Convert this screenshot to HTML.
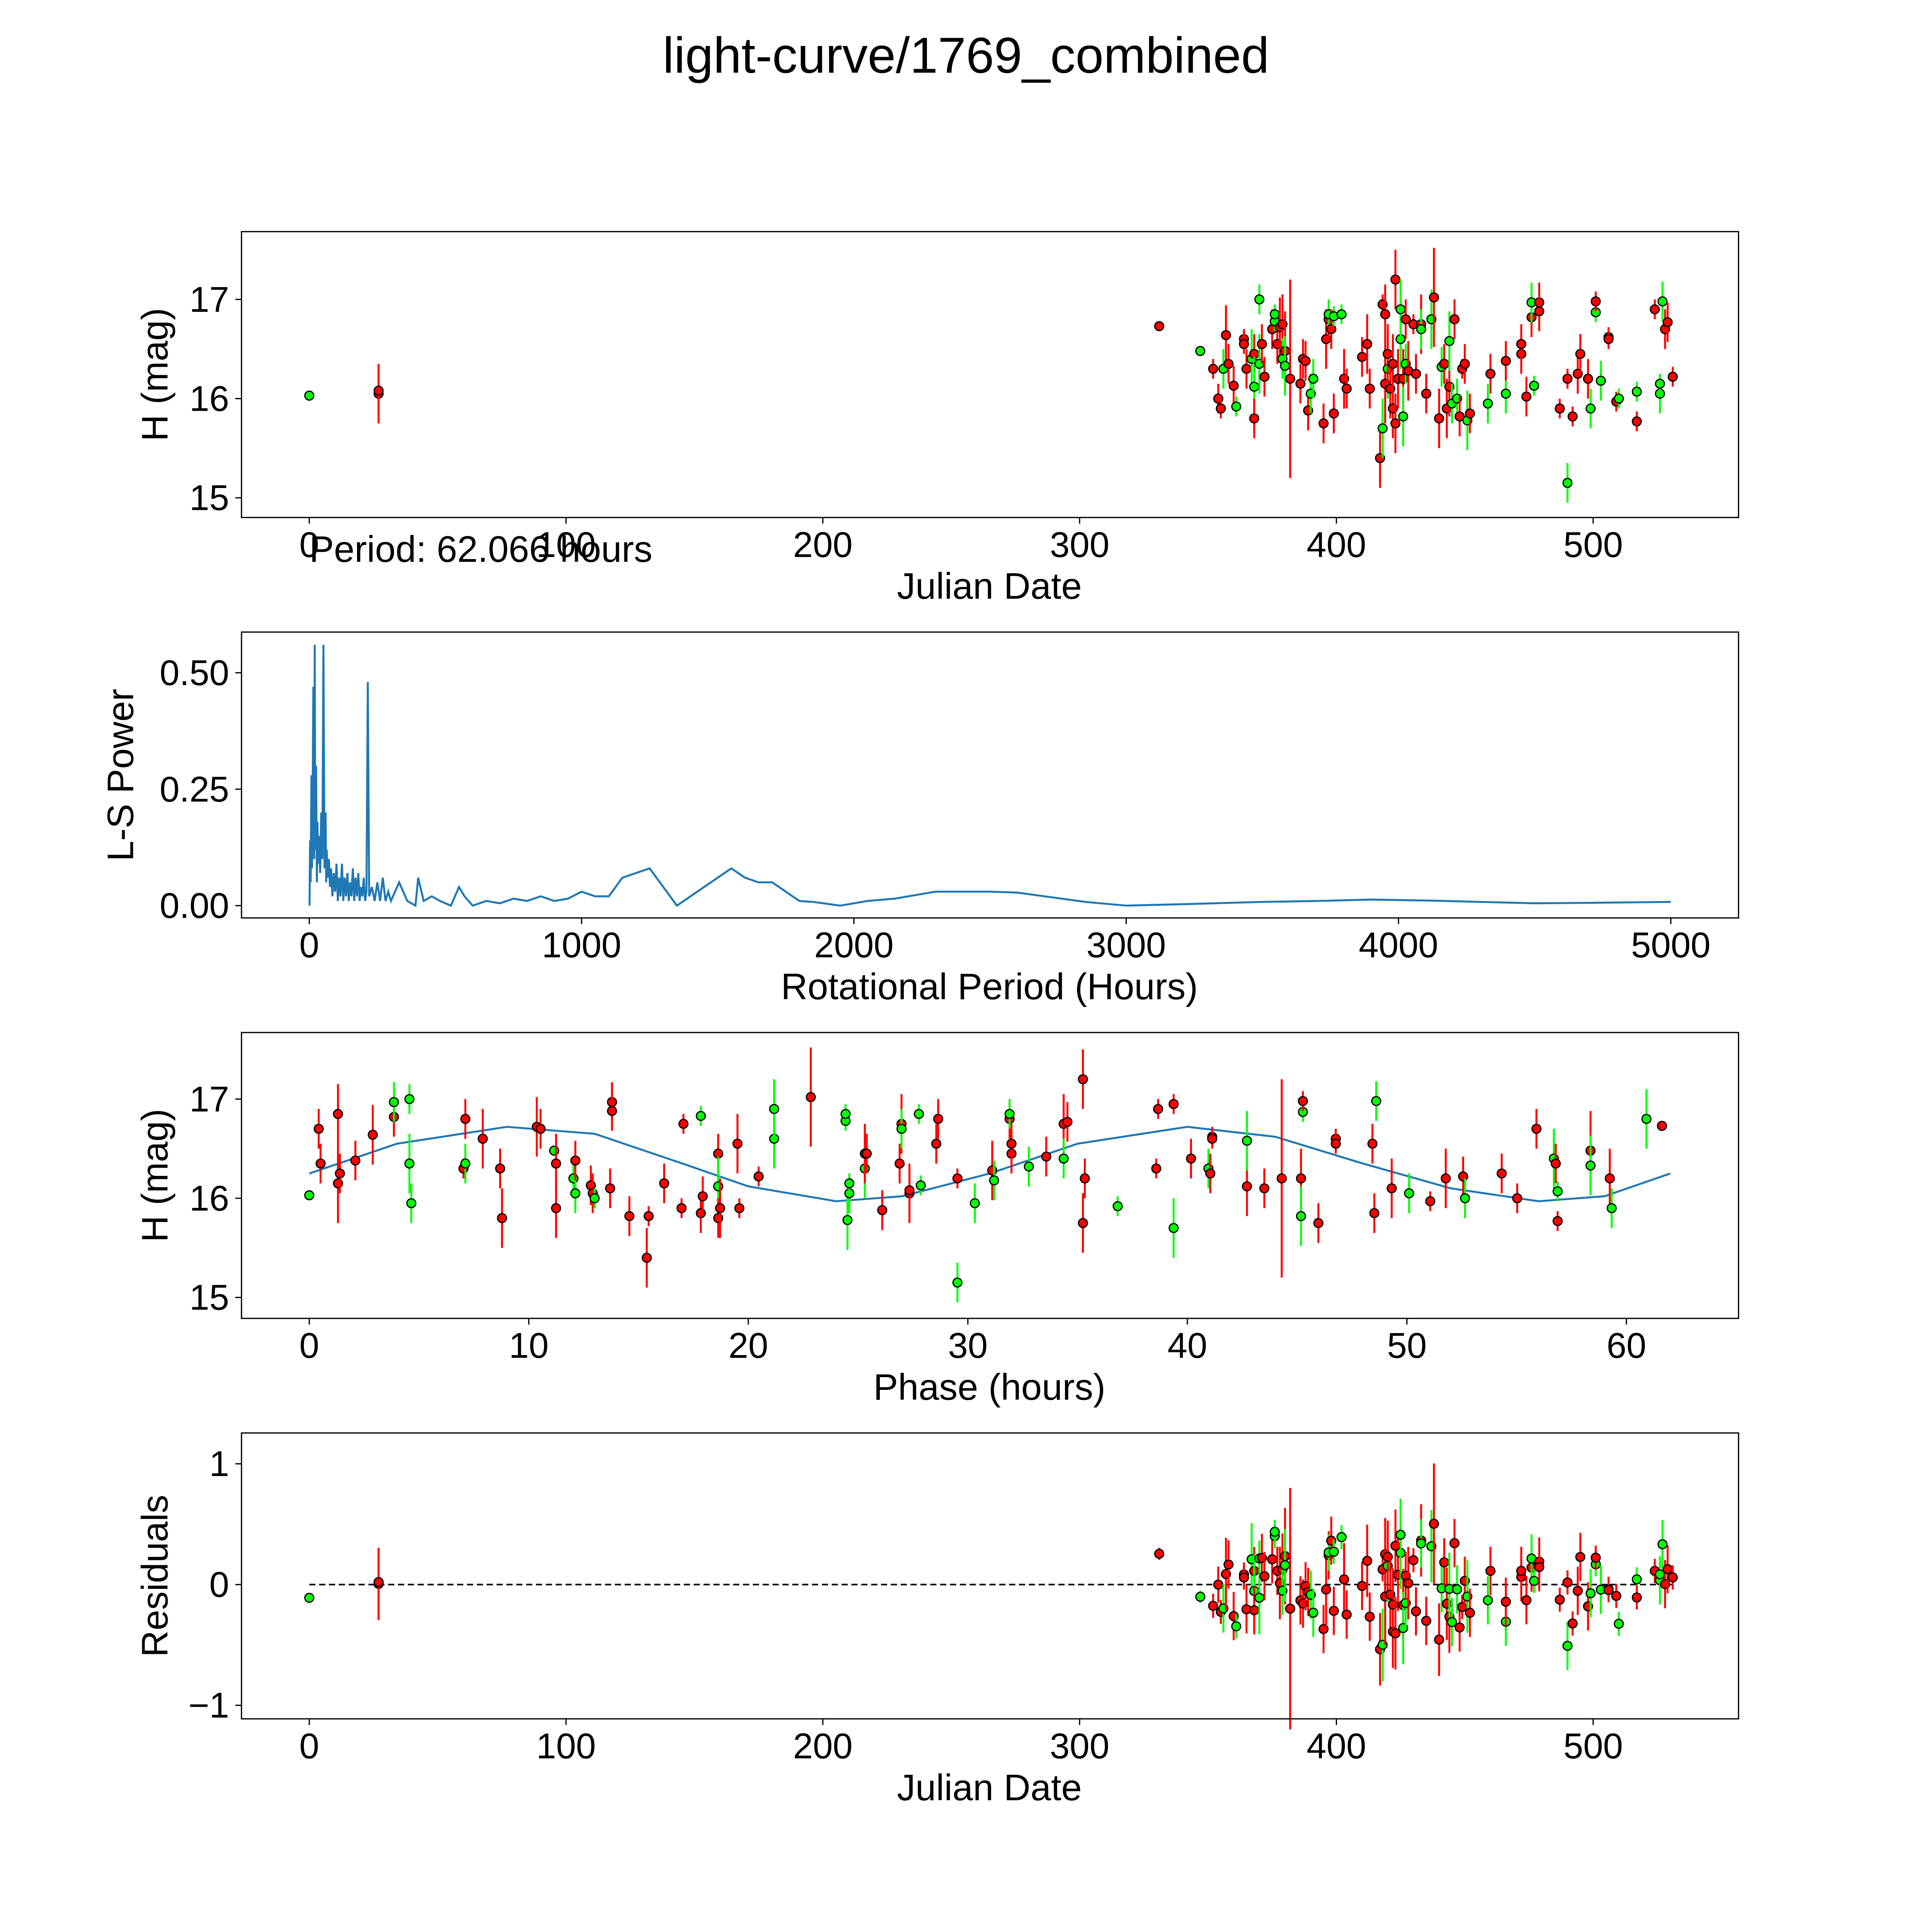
<!DOCTYPE html>
<html><head><meta charset="utf-8"><style>
html,body{margin:0;padding:0;background:#fff;overflow:hidden;width:100%;height:100%}
svg{display:block;width:100vw;height:100vh}
text{font-family:"Liberation Sans","DejaVu Sans",sans-serif;fill:#000}
</style></head><body>
<svg id="fig" xmlns="http://www.w3.org/2000/svg" viewBox="0 0 1568 1568" preserveAspectRatio="none">
<rect width="1568" height="1568" fill="#fff"/>
<text x="784" y="59" font-size="41" text-anchor="middle">light-curve/1769_combined</text>
<g id="root"></g>
</svg>
<script>
// observations: date (days), magnitude, error, color
const obsDate=[0,27,27,331,347,352,354,355,356,357,358,360,361,364,364,365,367,368,368,368,370,370,371,372,375,376,376,377,378,379,379,380,380,382,386,387,388,389,390,391,395,396,397,397,398,399,399,402,403,404,410,412,413,417,418,418,419,419,420,420,421,422,422,423,423,424,425,425,426,426,427,427,428,430,431,433,433,435,437,438,440,441,442,443,444,444,445,446,447,448,449,450,451,452,459,460,466,466,472,472,474,476,476,477,479,479,487,490,490,492,494,495,498,499,501,501,503,506,506,509,510,517,517,524,526,526,527,528,529,531];
const obsMag=[16.03,16.05,16.08,16.73,16.48,16.3,16.0,15.9,16.3,16.64,16.35,16.13,15.92,16.6,16.55,16.3,16.4,16.45,16.12,15.8,16.35,17.0,16.55,16.22,16.7,16.78,16.85,16.55,16.72,16.75,16.4,16.48,16.33,16.2,16.15,16.4,16.38,15.88,16.05,16.2,15.75,16.6,16.8,16.85,16.7,15.85,16.83,16.85,16.2,16.1,16.42,16.55,16.1,15.4,15.7,16.95,16.85,16.15,16.3,16.45,16.1,15.9,16.35,17.2,15.75,16.2,16.6,16.9,16.2,15.82,16.35,16.8,16.28,16.75,16.25,16.75,16.7,16.05,16.8,17.02,15.8,16.32,16.35,15.9,16.12,16.58,15.95,16.8,16.0,15.82,16.3,16.35,15.78,15.85,15.95,16.25,16.05,16.38,16.45,16.55,16.02,16.82,16.97,16.13,16.97,16.88,15.9,16.2,15.15,15.82,16.25,16.45,16.2,15.9,16.87,16.98,16.18,16.62,16.6,15.97,16.0,16.07,15.77,16.9,16.05,16.15,16.98,16.7,16.77,16.22];
const obsErr=[.03,.3,.1,.05,.05,.1,.15,.1,.2,.3,.2,.2,.1,.1,.1,.2,.3,.2,.3,.2,.3,.15,.2,.2,.2,.1,.1,.2,.3,.3,.2,.4,.3,1.0,.2,.2,.2,.2,.2,.2,.2,.3,.2,.15,.2,.2,.1,.1,.3,.2,.2,.3,.2,.3,.3,.1,.3,.4,.3,.3,.3,.3,.3,.3,.3,.3,.3,.3,.3,.3,.2,.2,.3,.1,.2,.3,.2,.2,.3,.5,.3,.2,.2,.3,.3,.3,.2,.2,.2,.2,.1,.2,.3,.2,.2,.2,.2,.2,.2,.2,.2,.2,.2,.1,.2,.2,.1,.1,.2,.1,.2,.2,.2,.2,.1,.1,.2,.1,.1,.1,.1,.1,.1,.1,.2,.1,.2,.2,.2,.1];
const obsBand="grrrgrrrgrrrgrrrgrgrggrrrggrrrgrgrrrrrggrrrgrrggrrrrrrgrrrgrrrrrrrggrggrrrrrgrgrrgrrrggrgrrrgrgrgrrrrrggrrrrgrrrrggrgrrrggrrgggr";
// periodogram
const lsPeriod=[1,3,5,8,10,12,15,18,20,22,25,28,30,33,36,40,44,48,52,56,60,62,64,68,72,76,80,85,90,95,100,105,110,115,120,125,130,135,140,145,150,155,160,165,170,175,180,185,190,195,200,205,210,215,220,230,240,250,260,270,280,290,300,330,360,390,400,420,450,480,520,550,570,600,650,700,750,800,850,900,950,1000,1050,1100,1150,1200,1250,1300,1350,1400,1450,1500,1550,1600,1650,1700,1750,1800,1850,1950,2050,2150,2300,2500,2600,2700,2850,3000,3200,3500,3700,3900,4100,4300,4500,4700,5000];
const lsPower=[0,.14,.05,.28,.08,.2,.47,.1,.56,.12,.3,.05,.18,.09,.15,.07,.2,.1,.56,.08,.2,.05,.12,.06,.1,.04,.08,.02,.07,.03,.09,.01,.06,.02,.09,.01,.06,.02,.07,.01,.05,.02,.08,.01,.06,.02,.07,.01,.04,.02,.06,.01,.03,.48,.02,.04,.01,.05,.01,.06,.01,.03,.01,.05,.01,.0,.06,.01,.02,.01,.0,.04,.02,.0,.01,.005,.015,.01,.02,.01,.015,.03,.02,.02,.06,.07,.08,.04,0,.02,.04,.06,.08,.06,.05,.05,.03,.01,.008,0,.01,.015,.03,.03,.028,.02,.008,0,.003,.008,.01,.013,.011,.008,.005,.006,.008];
// fitted model curve (phase hours, mag)
const fitPhase=[0,4,9,13,17,20,24,27,31,35,40,44,48,52,56,59,62];
const fitMag=[16.25,16.55,16.72,16.65,16.35,16.12,15.97,16.02,16.25,16.55,16.72,16.62,16.35,16.1,15.97,16.02,16.25];
const periodHours=62.066;

const NS="http://www.w3.org/2000/svg";
const root=document.getElementById('root');
function mk(tag,attrs,parent){const e=document.createElementNS(NS,tag);for(const k in attrs)e.setAttribute(k,attrs[k]);(parent||root).appendChild(e);return e;}
function lin(d0,d1,p0,p1){return v=>p0+(v-d0)*(p1-p0)/(d1-d0);}
function fmtMinus(s){return String(s).replace('-','\u2212');}

function panel(name,top,xs,ys,xticks,yticks,xlabel,ylabel,ylabelX){
  const g=mk('g',{});
  
  
  const L=196,R=1411,T=top,B=top+232;
  xticks.forEach(t=>{const x=xs(t);mk('line',{x1:x,x2:x,y1:B,y2:B+5,stroke:'#000','stroke-width':1},g);
    const tx=mk('text',{x:x,y:B+32,'font-size':29,'text-anchor':'middle'},g);tx.textContent=fmtMinus(t);
    
    });
  yticks.forEach(t=>{const y=ys(t.v);mk('line',{x1:L,x2:L-5,y1:y,y2:y,stroke:'#000','stroke-width':1},g);
    const tx=mk('text',{x:L-10,y:y+10,'font-size':29,'text-anchor':'end'},g);tx.textContent=fmtMinus(t.l);
    
    });
  const xl=mk('text',{x:803,y:B+66,'font-size':30,'text-anchor':'middle'},g);xl.textContent=xlabel;
  
  
  const yl=mk('text',{x:ylabelX,y:T+116,'font-size':30,'text-anchor':'middle',transform:`rotate(-90 ${ylabelX} ${T+116})`},g);yl.textContent=ylabel;
  
  
  const plot=mk('g',{},g);
  
  
  mk('rect',{x:L,y:T,width:R-L,height:B-T,fill:'none',stroke:'#000','stroke-width':1},g);
  return plot;
}
function errPoint(p,x,y,e,ys,band){
  const col=band==='g'?'#00ff00':'#ff0000';
  const ln=mk('line',{x1:x,x2:x,y1:ys(e.lo),y2:ys(e.hi),stroke:col,'stroke-width':1.6},p);
  
  
  const c=mk('circle',{cx:x,cy:y,r:3.6,fill:col,stroke:'#000','stroke-width':1},p);
  
  
}
function interpFit(ph){for(let i=0;i<fitPhase.length-1;i++){if(ph<=fitPhase[i+1]){const t=(ph-fitPhase[i])/(fitPhase[i+1]-fitPhase[i]);return fitMag[i]+t*(fitMag[i+1]-fitMag[i]);}}return fitMag[fitMag.length-1];}

// Panel 1
const xd=lin(0,500,251,1293);
const ym1=lin(15,17,404,243);
const p1=panel('light-curve-panel',188,xd,ym1,[0,100,200,300,400,500],[{v:15,l:'15'},{v:16,l:'16'},{v:17,l:'17'}],'Julian Date','H (mag)',136);
obsDate.forEach((d,i)=>errPoint(p1,xd(d),ym1(obsMag[i]),{lo:obsMag[i]-obsErr[i],hi:obsMag[i]+obsErr[i]},ym1,obsBand[i]));
const per=mk('text',{x:251,y:456,'font-size':30});per.textContent='Period: 62.066 hours';



// Panel 2
const xp=lin(0,5000,251,1356);
const yp=lin(0,0.5,735,546);
const p2=panel('periodogram-panel',513,xp,yp,[0,1000,2000,3000,4000,5000],[{v:0,l:'0.00'},{v:.25,l:'0.25'},{v:.5,l:'0.50'}],'Rotational Period (Hours)','L-S Power',108);
const pl=mk('polyline',{points:lsPeriod.map((p,i)=>xp(p).toFixed(2)+','+yp(lsPower[i]).toFixed(2)).join(' '),fill:'none',stroke:'#1f77b4','stroke-width':1.6},p2);



// Panel 3
const xph=lin(0,60,251,1320);
const ym3=lin(15,17,1053,892);
const p3=panel('phase-panel',838,xph,ym3,[0,10,20,30,40,50,60],[{v:15,l:'15'},{v:16,l:'16'},{v:17,l:'17'}],'Phase (hours)','H (mag)',136);
let pts=[];for(let ph=0;ph<=62;ph+=0.5)pts.push(xph(ph).toFixed(2)+','+ym3(interpFit(ph)).toFixed(2));
const fit=mk('polyline',{points:pts.join(' '),fill:'none',stroke:'#1f77b4','stroke-width':1.6},p3);


obsDate.forEach((d,i)=>{const ph=(d*24)%periodHours;errPoint(p3,xph(ph),ym3(obsMag[i]),{lo:obsMag[i]-obsErr[i],hi:obsMag[i]+obsErr[i]},ym3,obsBand[i]);});

// Panel 4
const yr=lin(-1,1,1384,1188);
const p4=panel('residuals-panel',1163,xd,yr,[0,100,200,300,400,500],[{v:-1,l:'-1'},{v:0,l:'0'},{v:1,l:'1'}],'Julian Date','Residuals',136);
const zl=mk('line',{x1:xd(0),x2:xd(531),y1:yr(0),y2:yr(0),stroke:'#000','stroke-width':1.3,'stroke-dasharray':'5,3'},p4);


obsDate.forEach((d,i)=>{const ph=(d*24)%periodHours;const r=(obsMag[i]-interpFit(ph))*0.5;errPoint(p4,xd(d),yr(r),{lo:r-obsErr[i],hi:r+obsErr[i]},yr,obsBand[i]);});
</script>
</body></html>
